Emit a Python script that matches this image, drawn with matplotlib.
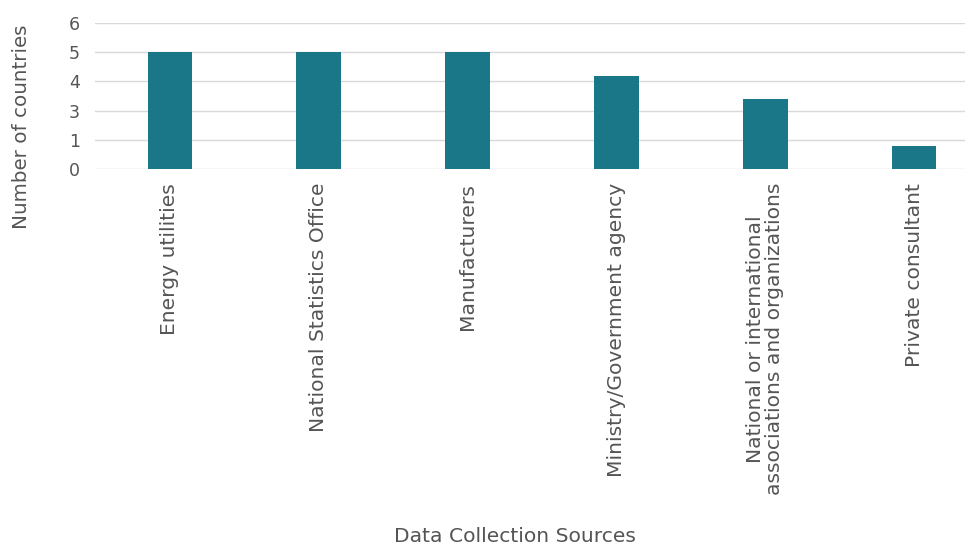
import numpy as np
import matplotlib
matplotlib.use('Agg')
import matplotlib.pyplot as plt

# data
sources = ['Energy utilities', 'National Statistics Office', 'Manufacturers',
           'Ministry/Government agency',
           'National or international\nassociations and organizations',
           'Private consultant']
countries = [5, 5, 5, 4.2, 3.4, 0.8]

# the original axis labels its evenly spaced gridlines 0,1,3,4,5,6
tick_values = [0, 1, 3, 4, 5, 6]
tick_pos = np.arange(len(tick_values))

plt.rcParams['font.family'] = ['DejaVu Sans']
text_color = '#555555'
bar_color = '#1a7787'

fig = plt.figure(figsize=(9.73, 5.46), dpi=100)
ax = fig.add_axes([95 / 973, 1 - 169 / 546, 870 / 973, (169 - 23) / 546])


def fwd(v):
    return np.interp(v, tick_values, tick_pos)


def inv(p):
    return np.interp(p, tick_pos, tick_values)


ax.set_yscale('function', functions=(fwd, inv))

x = np.arange(len(sources))
ax.bar(x, countries, width=0.3, color=bar_color, zorder=3)

ax.set_ylim(0, 6)
ax.set_yticks(tick_values)
ax.set_yticklabels([str(v) for v in tick_values])
ax.set_xlim(-0.503, 5.342)
ax.set_xticks(x)
ax.set_xticklabels(sources, rotation=90, ha='center', va='top',
                   multialignment='center', linespacing=1.0)

ax.grid(axis='y', color='#d9d9d9', linewidth=1, zorder=0)
for s in ax.spines.values():
    s.set_visible(False)
ax.tick_params(axis='both', length=0, colors=text_color)
ax.tick_params(axis='y', pad=11, labelsize=12.5)
ax.tick_params(axis='x', pad=10, labelsize=14.6)

fig.text(22 / 973, 1 - 127 / 546, 'Number of countries', color=text_color,
         fontsize=14.3, rotation=90, ha='center', va='center')
fig.text(515 / 973, 1 - 536 / 546, 'Data Collection Sources', color=text_color,
         fontsize=14.6, ha='center', va='center')

fig.savefig('out.png', dpi=100)
